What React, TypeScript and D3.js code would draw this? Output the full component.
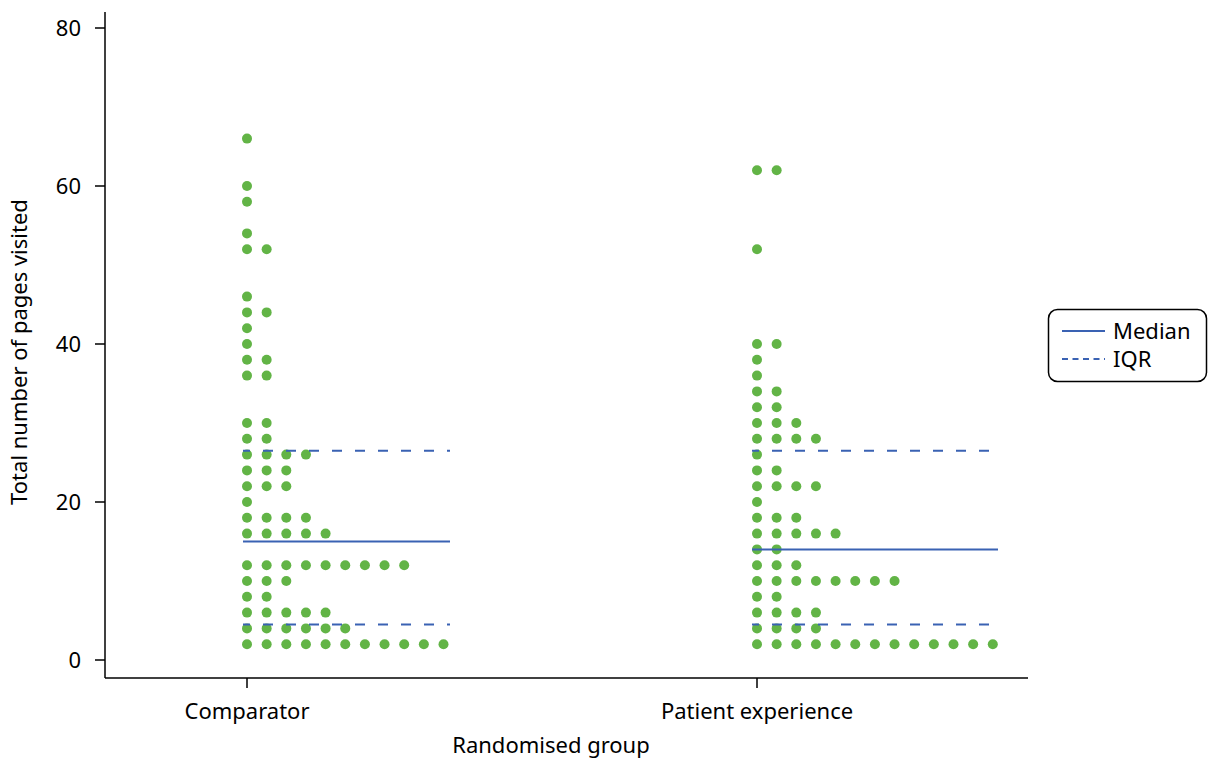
import React from "react";
import * as d3 from "d3";

const groups = ["Comparator", "Patient experience"];
// [value, number of participants] per group
const comparatorRows: [number, number][] = [
  [66, 1], [60, 1], [58, 1], [54, 1], [52, 2], [46, 1], [44, 2], [42, 1], [40, 1],
  [38, 2], [36, 2], [30, 2], [28, 2], [26, 4], [24, 3], [22, 3], [20, 1], [18, 4],
  [16, 5], [12, 9], [10, 3], [8, 2], [6, 5], [4, 6], [2, 11],
];
const patientRows: [number, number][] = [
  [62, 2], [52, 1], [40, 2], [38, 1], [36, 1], [34, 2], [32, 2], [30, 3], [28, 4],
  [26, 1], [24, 2], [22, 4], [20, 1], [18, 3], [16, 5], [14, 2], [12, 3], [10, 8],
  [8, 2], [6, 4], [4, 4], [2, 13],
];
const medians = [15, 14];
const iqrLow = [4.5, 4.5];
const iqrHigh = [26.5, 26.5];
const yTicks = [0, 20, 40, 60, 80];

const GREEN = "#62b446";
const BLUE = "#3a62b3";
const FONT = "'Noto Sans', 'Open Sans', sans-serif";
const FS = 22;

export default function App() {
  const W = 1209, H = 758;
  const axisX = 105, axisY = 678, axisTop = 12, axisRight = 1028;
  const y = d3.scaleLinear().domain([0, 80]).range([660, 28]);
  const x = d3.scalePoint<string>().domain(groups).range([247, 757]);
  const slot = d3.scaleLinear().domain([0, 1]).range([0, 19.65]);
  const lineExt: [number, number][] = [[-4, 203], [-5, 241]];
  const allRows = [comparatorRows, patientRows];

  return (
    <svg width={W} height={H} style={{ position: "absolute", left: 0, top: 0, background: "#fff" }}
      fontFamily={FONT}>
      {/* axes */}
      <line x1={axisX} x2={axisX} y1={axisTop} y2={axisY} stroke="#000" strokeWidth={1.5} />
      <line x1={axisX} x2={axisRight} y1={axisY} y2={axisY} stroke="#000" strokeWidth={1.5} />
      {yTicks.map((t) => (
        <g key={t}>
          <line x1={axisX - 10} x2={axisX} y1={y(t)} y2={y(t)} stroke="#000" strokeWidth={1.5} />
          <text x={81} y={y(t)} dy="0.35em" textAnchor="end" fontSize={FS} fill="#000">{t}</text>
        </g>
      ))}
      {groups.map((g) => (
        <g key={g}>
          <line x1={x(g)} x2={x(g)} y1={axisY} y2={axisY + 10} stroke="#000" strokeWidth={1.5} />
          <text x={x(g)} y={719} textAnchor="middle" fontSize={FS} fill="#000">{g}</text>
        </g>
      ))}
      <text x={551} y={753} textAnchor="middle" fontSize={FS} fill="#000">Randomised group</text>
      <text transform={`translate(27,352) rotate(-90)`} textAnchor="middle" fontSize={FS} fill="#000">
        Total number of pages visited
      </text>

      {/* dots */}
      {allRows.map((rows, gi) =>
        rows.map(([v, n]) =>
          d3.range(n).map((k) => (
            <circle key={`${gi}-${v}-${k}`} cx={(x(groups[gi]) as number) + slot(k)} cy={y(v)} r={5} fill={GREEN} />
          ))
        )
      )}

      {/* median & IQR lines */}
      {groups.map((g, gi) => {
        const x0 = (x(g) as number) + lineExt[gi][0];
        const x1 = (x(g) as number) + lineExt[gi][1];
        return (
          <g key={g}>
            <line x1={x0} x2={x1} y1={y(medians[gi])} y2={y(medians[gi])} stroke={BLUE} strokeWidth={2} />
            <line x1={x0} x2={x1} y1={y(iqrHigh[gi])} y2={y(iqrHigh[gi])} stroke={BLUE} strokeWidth={2}
              strokeDasharray="10,13" strokeDashoffset={3} />
            <line x1={x0} x2={x1} y1={y(iqrLow[gi])} y2={y(iqrLow[gi])} stroke={BLUE} strokeWidth={2}
              strokeDasharray="10,13" strokeDashoffset={3} />
          </g>
        );
      })}

      {/* legend */}
      <g>
        <rect x={1048.5} y={309.5} width={158} height={72} rx={9} ry={9} fill="#fff" stroke="#000" strokeWidth={1.5} />
        <line x1={1062} x2={1105} y1={331} y2={331} stroke={BLUE} strokeWidth={2} />
        <text x={1113} y={331} dy="0.35em" fontSize={FS} fill="#000">Median</text>
        <line x1={1062} x2={1105} y1={359} y2={359} stroke={BLUE} strokeWidth={2} strokeDasharray="6,4.5" />
        <text x={1113} y={359} dy="0.35em" fontSize={FS} fill="#000">IQR</text>
      </g>
    </svg>
  );
}
